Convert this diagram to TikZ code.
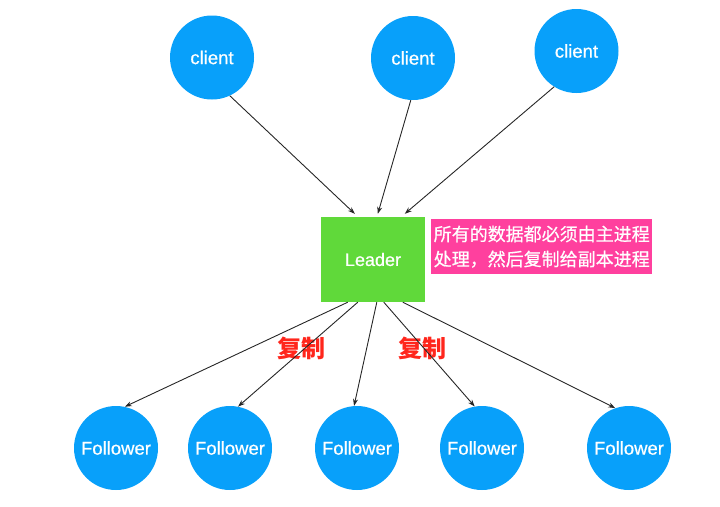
\documentclass[tikz,border=0pt]{standalone}
\usepackage{fontspec}
\setmainfont{Liberation Sans}
\newfontfamily\medfont{Liberation Sans}[FakeBold=0.6]
\newfontfamily\cjk{Noto Sans CJK SC}
\newfontfamily\cjkmed{Noto Sans CJK SC}[FakeBold=0.5]
\usetikzlibrary{arrows.meta}

\definecolor{peerblue}{RGB}{8,160,250}
\definecolor{leadgreen}{RGB}{96,217,58}
\definecolor{notepink}{RGB}{255,64,158}
\definecolor{tagred}{RGB}{255,38,28}

\tikzset{
  peer/.style={circle, fill=peerblue, draw=none, minimum size=84pt, inner sep=0pt,
    text=white, font=\medfont\fontsize{18.5}{20}\selectfont},
  master/.style={rectangle, fill=leadgreen, minimum width=104pt, minimum height=85pt,
    inner sep=0pt, text=white, font=\medfont\fontsize{18}{20}\selectfont},
  note/.style={rectangle, fill=notepink, minimum width=221pt, minimum height=55pt,
    inner sep=0pt, align=left, text=white, font=\cjkmed\fontsize{18}{25}\selectfont},
  tag/.style={text=tagred, inner sep=0pt, font=\cjk\bfseries\fontsize{24}{26}\selectfont},
  link/.style={draw=black!85, line width=0.9pt, -{Stealth[length=7pt,width=5pt]}},
}

\begin{document}
\begin{tikzpicture}[x=1pt,y=-1pt]

  \useasboundingbox (0,0) rectangle (720,506);

  % Leader and its note
  \node[master] (lead) at (373,259.5) {Leader}; %
  \node[note, anchor=north west] (msg) at (431,219)
    {所有的数据都必须由主进程\\处理，然后复制给副本进程}; %

  % clients
  \node[peer] (c1) at (212,57.5) {client}; %
  \node[peer] (c2) at (413,58)   {client}; %
  \node[peer] (c3) at (576.5,51) {client}; %

  % Followers
  \node[peer] (f1) at (116,448) {Follower}; %
  \node[peer] (f2) at (230,448) {Follower}; %
  \node[peer] (f3) at (357,448) {Follower}; %
  \node[peer] (f4) at (482,448) {Follower}; %
  \node[peer] (f5) at (629,448) {Follower}; %

  % replication labels
  \node[tag] (r1) at (301,348) {复制}; %
  \node[tag] (r2) at (422,348) {复制}; %

  % end points on the Leader
  \foreach \i/\s in {1/34,2/57,3/84}
    \coordinate (in\i) at ([xshift=\s pt,yshift=3pt]lead.north west); %
  \foreach \i/\s in {1/27,2/37,3/56,4/63,5/82}
    \coordinate (out\i) at ([xshift=\s pt]lead.south west); %

  % clients to Leader
  \draw[link] (c1.-65)  -- (in1) ;
  \draw[link] (c2.-93)  -- (in2) ;
  \draw[link] (c3.-122) -- (in3) ;

  % Leader to Followers
  \foreach \i/\a in {1/78,2/79,3/94,4/100,5/109}
    \draw[link] (out\i) -- (f\i.\a) ;

\end{tikzpicture}
\end{document}
